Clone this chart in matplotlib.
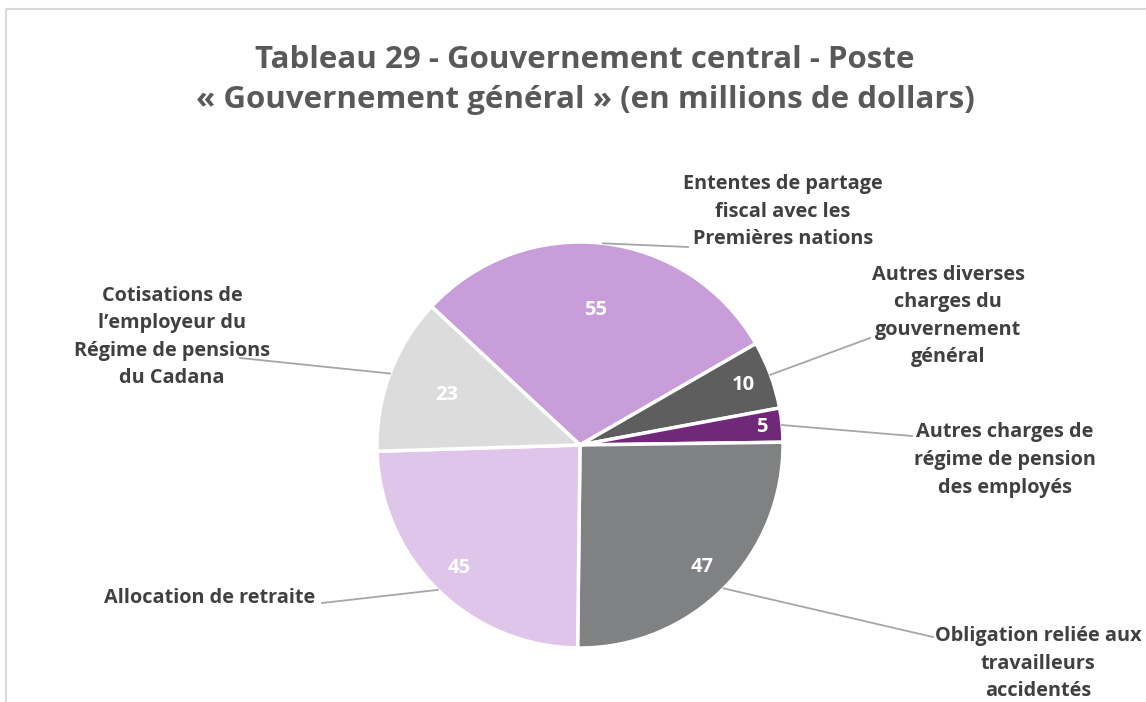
import numpy as np
import matplotlib.pyplot as plt

# valeurs (en millions de dollars)
LABELS = [
    "Ententes de partage\nfiscal avec les\nPremières nations",
    "Autres diverses\ncharges du\ngouvernement\ngénéral",
    "Autres charges de\nrégime de pension\ndes employés",
    "Obligation reliée aux\ntravailleurs\naccidentés",
    "Allocation de retraite",
    "Cotisations de\nl\u2019employeur du\nRégime de pensions\ndu Cadana",
]
VALUES = [55, 10, 5, 47, 45, 23]
COLORS = ["#C99DDA", "#5E5E5E", "#712878", "#808183", "#E0C5EA", "#DCDCDC"]

TITLE = "Tableau 29 - Gouvernement central - Poste\n\u00ab Gouvernement général \u00bb (en millions de dollars)"

W, H = 1146, 702
CX, CY, R = 580, H - 445, 203
START = 137

# position des étiquettes (px) et des coudes des lignes de rappel
LABEL_POS = [(783, 212), (948, 316), (1005, 460), (1038, 664), (210, 598), (172, 337)]
LEADER_END = [(688, 247), (870, 338), (912, 436), (933, 637), (322, 603), (240, 358)]
VALUE_R = [0.67, 0.86, 0.90, 0.85, 0.85, 0.70]

TXT = "#404040"
plt.rcParams["font.family"] = ["Open Sans", "DejaVu Sans"]

fig = plt.figure(figsize=(W / 100, H / 100), dpi=100)
ax = fig.add_axes([0, 0, 1, 1])

# cadre du graphique
ax.plot([6, 6, W + 5], [0, H - 9, H - 9], color="#D9D9D9", lw=1.5)

wedges, _ = ax.pie(VALUES, colors=COLORS, startangle=START, counterclock=False,
                   center=(CX, CY), radius=R, frame=True,
                   wedgeprops=dict(edgecolor="white", linewidth=2.5))
ax.set_xlim(0, W)
ax.set_ylim(0, H)
ax.set_aspect("equal")
ax.axis("off")

for i, w in enumerate(wedges):
    mid = np.deg2rad((w.theta1 + w.theta2) / 2)
    # valeur
    vr = R * VALUE_R[i]
    ax.text(CX + vr * np.cos(mid), CY + vr * np.sin(mid), str(VALUES[i]),
            color="white", fontsize=14.5, fontweight="bold", ha="center", va="center")
    # ligne de rappel
    sx, sy = CX + R * np.cos(mid), CY + R * np.sin(mid)
    ex, ey = LEADER_END[i]
    ey = H - ey
    ax.plot([sx, ex], [sy, ey], color="#A6A6A6", lw=1.3)
    lx, ly = LABEL_POS[i]
    ax.text(lx, H - ly, LABELS[i], color=TXT, fontsize=14.3, fontweight="bold",
            ha="center", va="center", linespacing=1.5)

fig.text(585 / W, 1 - 80 / H, TITLE, ha="center", va="center", color="#595959",
         fontsize=22.5, fontweight="bold", linespacing=1.45)

fig.savefig("out.png", dpi=100)
